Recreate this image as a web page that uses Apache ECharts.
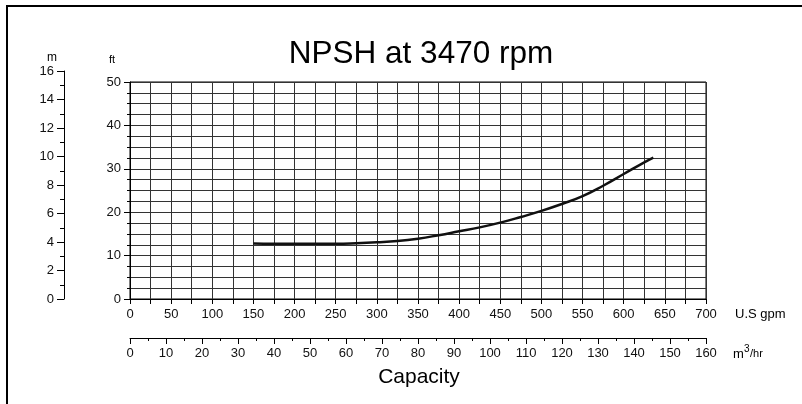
<!DOCTYPE html>
<html><head><meta charset="utf-8">
<script src="https://cdn.jsdelivr.net/npm/echarts@6/dist/echarts.min.js"></script>
<style>html,body{margin:0;padding:0;background:#fff}#c{width:802px;height:404px}</style>
</head><body><div id="c"></div>
<script>
// ---- data ----
const capacityGpm = [150,175,200,225,250,275,300,325,350,375,400,425,450,475,500,525,550,575,600,625,636];
const npshFt      = [12.8,12.75,12.75,12.75,12.75,12.85,13.05,13.35,13.9,14.7,15.6,16.5,17.6,18.9,20.3,21.9,23.7,26.1,28.8,31.5,32.6];
const gpmAxis  = {min: 0, max: 700, step: 50};
const ftAxis   = {min: 0, max: 50, step: 10};
const mAxis    = {min: 0, max: 16, step: 2};
const m3hAxis  = {min: 0, max: 160, step: 10};
const titleText = 'NPSH at 3470 rpm';
const xTitle = 'Capacity';
const gpmUnit = 'U.S gpm';
const ftUnit = 'ft';
const mUnit = 'm';
const m3hUnit = ['m', '3', '/hr'];

const FONT = '"Liberation Sans", Arial, sans-serif';
const GRID = '#333';
const lbl = (m) => ({margin: m, fontSize: 13, color: '#111', fontFamily: FONT});
const txt = (x, y, text, size, align) => ({type: 'text', x: x, y: y, style: {text: text, font: size + 'px ' + FONT, fill: '#000', textAlign: align || 'center', textVerticalAlign: 'middle'}});

const chart = echarts.init(document.getElementById('c'), null, {renderer: 'canvas'});
chart.setOption({
  animation: false,
  backgroundColor: '#fff',
  grid: [
    {left: 130, top: 82, width: 576, height: 217, show: true, borderColor: '#000', borderWidth: 1, backgroundColor: 'transparent'},
    {left: 64, top: 71, width: 20, height: 228},
    {left: 130, top: 300, width: 576, height: 38}
  ],
  xAxis: [
    {gridIndex: 0, type: 'value', min: gpmAxis.min, max: gpmAxis.max, interval: gpmAxis.step,
     axisLine: {lineStyle: {color: '#000', width: 1}},
     axisTick: {length: 5, lineStyle: {color: '#000'}},
     minorTick: {show: true, splitNumber: 2, length: 5, lineStyle: {color: '#000'}},
     splitLine: {show: true, lineStyle: {color: GRID, width: 1}},
     minorSplitLine: {show: true, lineStyle: {color: GRID, width: 1}},
     axisLabel: lbl(9)},
    {gridIndex: 1, type: 'value', show: false, min: 0, max: 1},
    {gridIndex: 2, type: 'value', min: m3hAxis.min, max: m3hAxis.max, interval: m3hAxis.step,
     axisLine: {lineStyle: {color: '#000', width: 1}},
     axisTick: {length: 6, lineStyle: {color: '#000'}},
     minorTick: {show: true, splitNumber: 2, length: 3, lineStyle: {color: '#000'}},
     splitLine: {show: false},
     axisLabel: lbl(9)}
  ],
  yAxis: [
    {gridIndex: 0, type: 'value', min: ftAxis.min, max: ftAxis.max, interval: ftAxis.step,
     axisLine: {show: true, lineStyle: {color: '#000', width: 1}},
     axisTick: {show: true, length: 6, lineStyle: {color: '#000'}},
     minorTick: {show: true, splitNumber: 4, length: 3, lineStyle: {color: '#000'}},
     splitLine: {show: true, lineStyle: {color: GRID, width: 1}},
     minorSplitLine: {show: true, lineStyle: {color: GRID, width: 1}},
     axisLabel: lbl(9)},
    {gridIndex: 1, type: 'value', min: mAxis.min, max: mAxis.max, interval: mAxis.step,
     axisLine: {show: true, lineStyle: {color: '#000', width: 1}},
     axisTick: {show: true, length: 7, lineStyle: {color: '#000'}},
     minorTick: {show: true, splitNumber: 2, length: 4, lineStyle: {color: '#000'}},
     splitLine: {show: false},
     axisLabel: lbl(10)},
    {gridIndex: 2, type: 'value', show: false, min: 0, max: 1}
  ],
  series: [{
    type: 'line', xAxisIndex: 0, yAxisIndex: 0, smooth: true, showSymbol: false,
    lineStyle: {color: '#111', width: 2.5},
    data: capacityGpm.map((g, i) => [g, npshFt[i]])
  }],
  graphic: [
    {type: 'rect', shape: {x: 7, y: 6, width: 1000, height: 1000}, style: {fill: 'none', stroke: '#000', lineWidth: 2}, silent: true},
    txt(421, 54, titleText, 31.5),
    txt(52, 58, mUnit, 12),
    txt(112, 60, ftUnit, 11),
    txt(735, 314, gpmUnit, 13, 'left'),
    txt(733, 354, m3hUnit[0], 13, 'left'),
    txt(744, 349, m3hUnit[1], 10, 'left'),
    txt(750, 354, m3hUnit[2], 11, 'left'),
    txt(419, 377, xTitle, 21)
  ]
});
</script>
</body></html>
